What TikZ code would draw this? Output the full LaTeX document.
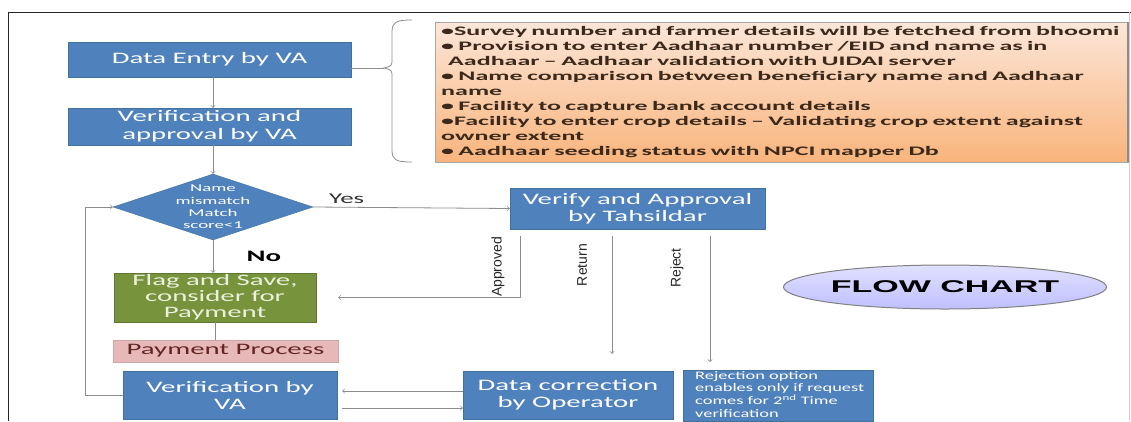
\documentclass[tikz,border=0pt]{standalone}
\usepackage{fontspec}
\setmainfont{Carlito}[FakeStretch=1.8]
\newfontfamily\notefont{Carlito}[FakeStretch=2.0]
\newfontfamily\smallfont{Carlito}[FakeStretch=1.6]
\newfontfamily\arialfont{Liberation Sans}
\newfontfamily\titlefont{Liberation Sans}[FakeStretch=2]
\usetikzlibrary{arrows,shapes,calc,positioning}
\definecolor{vablue}{HTML}{4F81BD}
\definecolor{vaborder}{HTML}{41719C}
\definecolor{flaggreen}{HTML}{77933C}
\definecolor{flagtext}{HTML}{EBF1DE}
\definecolor{paypink}{HTML}{E6B9B8}
\definecolor{paytext}{HTML}{632523}
\definecolor{linegray}{HTML}{8C8C8C}
\definecolor{notetop}{HTML}{FCE6D8}
\definecolor{notebot}{HTML}{F9B47C}
\definecolor{notetext}{HTML}{3B2A1C}

\begin{document}
\begin{tikzpicture}[x=1pt,y=-1pt,
    box/.style={draw=vaborder,fill=vablue,text=white,align=center,inner sep=0pt,
      font=\fontsize{16}{18}\selectfont},
    arr/.style={draw=linegray,line width=0.8pt,->},
    vlabel/.style={rotate=90,font=\arialfont\fontsize{14}{14}\selectfont,text=black!85}]
        \useasboundingbox (0,0) rectangle (1131,421);
        % frame
        \draw[black!85,line width=1pt] (8,421) -- (8,12) -- (1131,12);
        \draw[black!20] (1129,12) -- (1129,421);

        \node[box,minimum width=283pt,minimum height=35pt] (entry) at (209.5,59.5) {Data Entry by VA};
        \node[box,minimum width=283pt,minimum height=37pt] (verva) at (209.5,126.5) {Verification and\\approval by VA};
        \node[diamond,draw=vaborder,fill=vablue,inner sep=0pt,minimum width=200pt,minimum height=66pt,
          label={[text=white,align=center,font=\fontsize{10.5}{12.3}\selectfont]center:Name\\mismatch\\Match\\score<1}] (match) at (213,207) {};
        \node[box,minimum width=255pt,minimum height=41pt,font=\fontsize{16}{17}\selectfont] (tah) at (637.5,208.5) {Verify and Approval\\by Tahsildar};
        \node[box,draw=flaggreen!80!black,fill=flaggreen,text=flagtext,minimum width=202pt,minimum height=49pt,
          font=\fontsize{16}{16}\selectfont] (flag) at (215,297.5) {Flag and Save,\\consider for\\Payment};
        \node[box,draw=paypink!90!black,fill=paypink,text=paytext,minimum width=225pt,minimum height=22pt] (pay) at (225.5,351) {Payment Process};
        \node[box,minimum width=214pt,minimum height=48pt,font=\fontsize{16}{17}\selectfont] (ver) at (230,395) {Verification by\\VA};
        \node[box,minimum width=210pt,minimum height=48pt,font=\fontsize{16}{17}\selectfont] (corr) at (568,395) {Data correction\\by Operator};
        \node[box,anchor=north west,minimum width=190pt,minimum height=51pt] (rej) at (683,370) {};
        \node[anchor=north west,align=left,inner sep=0pt,text=white,font=\smallfont\fontsize{11.5}{12.7}\selectfont]
          (rejtxt) at ([xshift=12pt,yshift=-1pt]rej.north west)
          {Rejection option\\enables only if request\\comes for 2\textsuperscript{nd} Time\\verification};

        % notes
        \node[draw=black!35,top color=notetop,bottom color=notebot,anchor=north west,minimum width=693pt,
          minimum height=140pt,text width=681pt,align=left,inner xsep=6pt,inner ysep=2pt,text=notetext,
          font=\notefont\bfseries\fontsize{13}{15}\selectfont] (notes) at (435,22)
          {•Survey number and farmer details will be fetched from bhoomi\\
           • Provision to enter Aadhaar number /EID and name as in\\
           \hspace*{7pt}Aadhaar – Aadhaar validation with UIDAI server\\
           • Name comparison between beneficiary name and Aadhaar\\
           name\\
           • Facility to capture bank account details\\
           •Facility to enter crop details – Validating crop extent against\\
           owner extent\\
           • Aadhaar seeding status with NPCI mapper Db};
        \draw[black!45,line width=2pt] (notes.north east) -- (notes.south east);

        \node[ellipse,draw=black!50,line width=1pt,top color=blue!12,bottom color=blue!25,minimum width=280pt,
          minimum height=44pt,inner sep=0pt,font=\titlefont\bfseries\fontsize{17}{17}\selectfont] (title) at (945,287) {FLOW CHART};

        \node[vlabel] (lapp) at (498,267) {Approved};
        \node[vlabel] (lret) at (582,265) {Return};
        \node[vlabel] (lrej) at (677,268) {Reject};

        % brace
        \coordinate (brtip) at (384,68);
        \draw[black!45,line width=0.8pt] (412,20) .. controls (396,20) and (392,22) .. (392,32) -- (392,58)
          .. controls (392,66) .. (brtip) .. controls (392,70) .. (392,78) -- (392,150)
          .. controls (392,160) and (396,162) .. (412,162);
        \draw[black!45,line width=0.8pt] (brtip) -- (brtip -| entry.east);

        \coordinate (xapp) at (520,0);
        \coordinate (xret) at (612,0);
        \coordinate (xrej) at (710,0);

        \begin{scope}
          \draw[arr] (entry.south -| match.north) -- (verva.north -| match.north);
          \draw[arr] (verva.south -| match.north) -- (match.north);
          \draw[arr] (match.east) -- node[pos=0.17,above,font=\fontsize{15}{15}\selectfont,text=black!80] {Yes} (tah.west);
          \draw[arr] (match.south) -- node[midway,right,xshift=30pt,font=\bfseries\fontsize{16}{16}\selectfont] {No} (match.south |- flag.north);
          \draw[draw=linegray,line width=0.8pt] (flag.south) -- (flag.south |- pay.north);
          \draw[arr,shorten <=7pt,shorten >=22pt] (tah.south -| xapp) |- (flag.east);
          \draw[arr,shorten <=7pt,shorten >=17pt] (tah.south -| xret) -- (corr.north -| xret);
          \draw[arr,shorten <=7pt,shorten >=8pt] (tah.south -| xrej) -- (rej.north -| xrej);
          \draw[arr] (ver.west) -- ++(-37,0) |- (match.west);
          \draw[arr,shorten >=5pt] ([yshift=4pt]corr.west) -- ([yshift=4pt]ver.east);
          \draw[arr,shorten <=5pt] ([yshift=-13pt]ver.east) -- ([yshift=-13pt]corr.west);
        \end{scope}
      \end{tikzpicture}
\end{document}
